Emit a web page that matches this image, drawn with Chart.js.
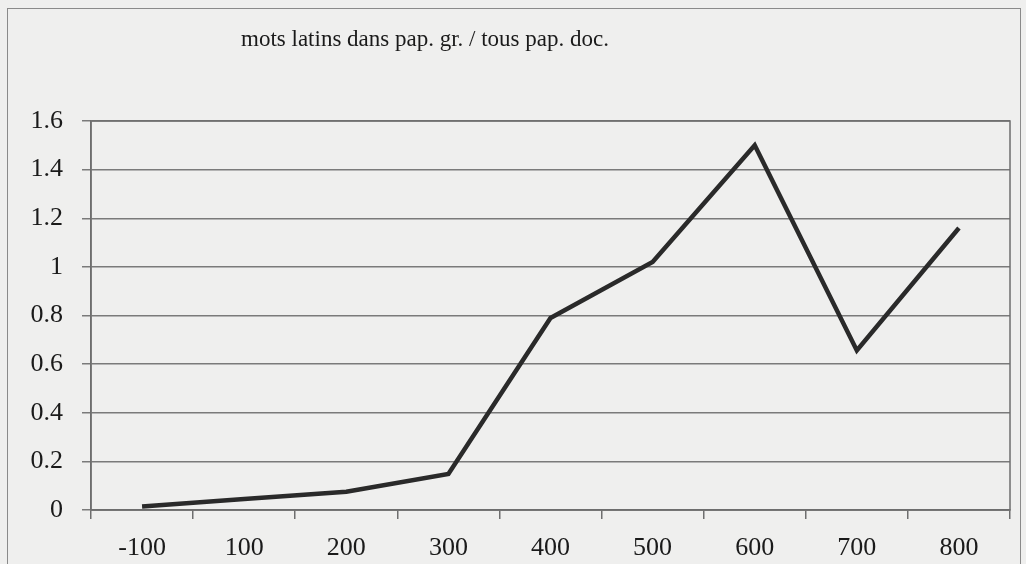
<!DOCTYPE html>
<html>
<head>
<meta charset="utf-8">
<script src="https://cdn.jsdelivr.net/npm/chart.js@4"></script>
<style>
  html, body { margin: 0; padding: 0; background: #efefee; }
  #wrap { position: relative; width: 1026px; height: 564px; }
  #frame { position: absolute; left: 7px; top: 8px; width: 1012px; height: 570px; border: 1.5px solid #8a8a8a; }
  canvas { position: absolute; left: 0; top: 0; }
</style>
</head>
<body>
<div id="wrap">
  <div id="frame"></div>
  <canvas id="myChart" width="1026" height="564"></canvas>
</div>
<script>
var titleText = "mots latins dans pap. gr. / tous pap. doc.";
var xValues = ["-100", "100", "200", "300", "400", "500", "600", "700", "800"];
var yValues = [0.014, 0.045, 0.075, 0.148, 0.79, 1.02, 1.5, 0.656, 1.16];

var serif = "'Liberation Serif', 'DejaVu Serif', serif";

// plot frame + title drawn on canvas
const framePlugin = {
  id: 'framePlugin',
  beforeDatasetsDraw(chart) {
    const a = chart.chartArea;
    const c = chart.ctx;
    c.save();
    c.strokeStyle = '#6e6e6e';
    c.lineWidth = 1.5;
    c.strokeRect(a.left, a.top, a.right - a.left, a.bottom - a.top);
    c.restore();
  },
  afterDraw(chart) {
    const c = chart.ctx;
    c.save();
    c.fillStyle = '#1a1a1a';
    c.font = "23px " + serif;
    c.textAlign = 'center';
    c.textBaseline = 'middle';
    c.fillText(titleText, 425, 40);
    c.restore();
  }
};

const ctx = document.getElementById('myChart').getContext('2d');
let myChart = new Chart(ctx, {
  type: "line",
  data: {
    labels: xValues,
    datasets: [{
      data: yValues,
      borderColor: '#2a2a2a',
      borderWidth: 4.5,
      pointRadius: 0,
      tension: 0,
      fill: false
    }]
  },
  options: {
    responsive: false,
    animation: false,
    layout: { padding: { top: 121, right: 16, left: 0, bottom: 0 } },
    scales: {
      x: {
        offset: true,
        afterFit: function (s) { s.height = 54; },
        grid: {
          offset: true,
          drawOnChartArea: false,
          color: '#6e6e6e',
          lineWidth: 1.5,
          tickLength: 9
        },
        border: { color: '#6e6e6e', width: 1.5 },
        ticks: {
          color: '#1a1a1a',
          font: { family: serif, size: 26 },
          padding: 14,
          maxRotation: 0
        }
      },
      y: {
        min: 0,
        max: 1.6,
        afterFit: function (s) { s.width = 91; },
        grid: {
          color: '#7a7a7a',
          lineWidth: 1.5,
          tickLength: 9
        },
        border: { color: '#6e6e6e', width: 1.5 },
        ticks: {
          stepSize: 0.2,
          color: '#1a1a1a',
          font: { family: serif, size: 26 },
          padding: 19,
          callback: function (v) { return String(Math.round(v * 10) / 10); }
        }
      }
    },
    plugins: {
      legend: { display: false },
      title: { display: false },
      tooltip: { enabled: false }
    }
  },
  plugins: [framePlugin]
});
</script>
</body>
</html>
